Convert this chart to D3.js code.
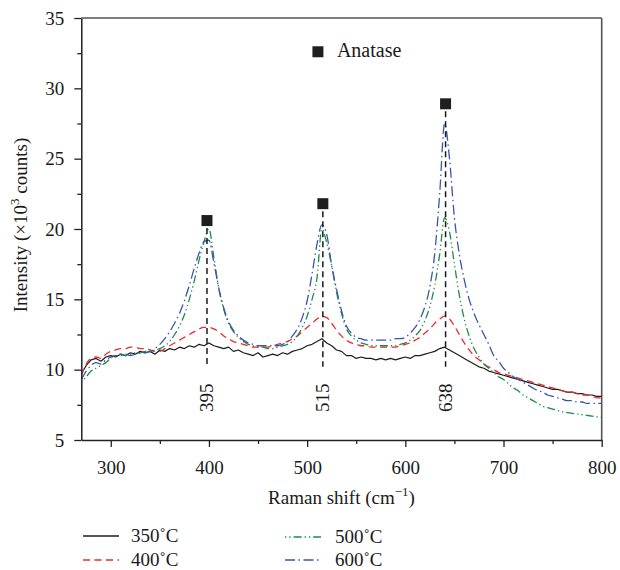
<!DOCTYPE html>
<html>
<head>
<meta charset="utf-8">
<script src="https://cdn.jsdelivr.net/npm/d3@7"></script>
<style>
  html, body { margin: 0; padding: 0; background: #fff; }
  svg { display: block; }
  text { font-family: "Liberation Serif", "Times New Roman", serif; fill: #1a1a1a; }
</style>
</head>
<body>
<svg id="chart" width="620" height="570"></svg>
<script>
// ---------------- data ----------------
const ramanShift = d3.range(270, 805, 5); // cm^-1 grid, 270..800

const s350 = [
  9.7, 10.3, 10.7, 10.8, 10.6, 10.9, 11.0, 10.9, 11.1, 11.0,
  11.2, 11.1, 11.3, 11.2, 11.3, 11.1, 11.4, 11.3, 11.5, 11.4,
  11.6, 11.5, 11.7, 11.6, 11.8, 11.7, 11.9, 11.7, 11.6, 11.5,
  11.6, 11.3, 11.4, 11.2, 11.1, 11.0, 11.2, 10.9, 11.0, 11.1,
  11.0, 11.2, 11.1, 11.3, 11.4, 11.5, 11.7, 11.8, 12.0, 12.2,
  11.9, 11.7, 11.4, 11.3, 11.0, 11.0, 10.8, 10.9, 10.8, 10.8,
  10.7, 10.8, 10.7, 10.8, 10.7, 10.8, 10.9, 10.8, 11.0, 11.0,
  11.1, 11.2, 11.3, 11.5, 11.6, 11.4, 11.2, 11.0, 10.8, 10.6,
  10.4, 10.2, 10.1, 9.9, 9.8, 9.7, 9.6, 9.5, 9.4, 9.3,
  9.2, 9.1, 9.0, 8.9, 8.8, 8.7, 8.6, 8.6, 8.5, 8.4,
  8.4, 8.3, 8.3, 8.2, 8.2, 8.1, 8.1
];
const s400 = [
  9.6, 10.4, 10.8, 10.9, 10.8, 11.1, 11.3, 11.4, 11.5, 11.5,
  11.6, 11.6, 11.5, 11.5, 11.4, 11.3, 11.3, 11.5, 11.7, 11.9,
  12.1, 12.3, 12.5, 12.7, 12.9, 13.0, 13.0, 12.9, 12.7, 12.4,
  12.2, 12.0, 11.9, 11.8, 11.7, 11.6, 11.6, 11.6, 11.6, 11.7,
  11.8, 11.9, 12.0, 12.2, 12.4, 12.7, 13.0, 13.3, 13.6, 13.8,
  13.7, 13.3, 12.8, 12.4, 12.1, 11.9, 11.8, 11.7, 11.7, 11.6,
  11.6, 11.6, 11.6, 11.6, 11.6, 11.7, 11.8, 11.9, 12.1, 12.3,
  12.6, 12.9, 13.3, 13.6, 13.8, 13.6, 13.1, 12.5, 11.9, 11.4,
  11.0, 10.7, 10.4, 10.2, 10.0, 9.8, 9.7, 9.6, 9.5, 9.4,
  9.3, 9.2, 9.1, 9.0, 8.9, 8.8, 8.7, 8.6, 8.5, 8.4,
  8.4, 8.3, 8.2, 8.2, 8.1, 8.0, 8.0
];
const s500 = [
  9.1, 9.5, 9.9, 10.1, 10.3, 10.5, 10.8, 11.0, 11.1, 11.0,
  11.1, 11.2, 11.2, 11.3, 11.3, 11.4, 11.5, 11.7, 12.0, 12.5,
  13.1, 13.9, 15.0, 16.3, 17.8, 19.1, 20.0, 18.0, 15.8, 14.3,
  13.3, 12.7, 12.3, 12.0, 11.8, 11.7, 11.6, 11.6, 11.5, 11.5,
  11.6, 11.7, 11.8, 12.0, 12.4, 13.0, 13.8, 15.0, 16.5, 20.0,
  19.0, 17.4, 15.5, 14.0, 12.9, 12.4, 12.1, 11.9, 11.8, 11.7,
  11.7, 11.7, 11.7, 11.7, 11.7, 11.8, 11.9, 12.1, 12.4, 12.8,
  13.5, 14.5, 16.0, 18.2, 20.8, 19.8, 17.5, 15.3, 13.6, 12.4,
  11.5, 10.9, 10.4, 10.1, 9.8, 9.5, 9.3, 9.0, 8.7, 8.5,
  8.2, 8.0, 7.8, 7.6, 7.4, 7.3, 7.2, 7.1, 7.0, 6.95,
  6.9, 6.85, 6.8, 6.75, 6.7, 6.65, 6.6
];
const s600 = [
  9.3, 9.9, 10.3, 10.5, 10.4, 10.7, 10.9, 11.0, 11.0, 11.1,
  11.0, 11.1, 11.2, 11.2, 11.3, 11.5, 11.8, 12.2, 12.7, 13.3,
  14.0, 14.9, 16.0, 17.2, 18.3, 19.1, 19.2, 17.6, 15.8, 14.4,
  13.4, 12.8, 12.4, 12.1, 11.9, 11.8, 11.7, 11.7, 11.7, 11.7,
  11.7, 11.8, 12.0, 12.4, 12.9, 13.7, 14.9, 16.8, 18.9, 20.3,
  19.6, 17.4, 15.7, 14.2, 13.1, 12.6, 12.3, 12.2, 12.1, 12.1,
  12.1, 12.1, 12.1, 12.1, 12.2, 12.2, 12.3, 12.6, 13.0, 13.6,
  14.5, 15.9, 18.3, 22.5, 27.5, 25.0, 20.8, 18.2, 16.4, 15.0,
  14.0, 13.2, 12.5, 11.8, 11.0, 10.6, 10.1, 9.8, 9.5, 9.3,
  9.1, 8.9, 8.7, 8.5, 8.4, 8.2, 8.1, 8.0, 7.9, 7.8,
  7.8, 7.7, 7.7, 7.6, 7.6, 7.6, 7.6
];

const seriesNames = ["350˚C", "400˚C", "500˚C", "600˚C"];
const seriesValues = [s350, s400, s500, s600];

const peakShift = [398, 516, 641];
const peakLabels = ["395", "515", "638"];
const markerIntensity = [20.6, 21.8, 28.9];
const peakLineBottom = 10.2;
const peakLabelCenter = 8.0;

const anatasePos = [511, 32.6];
const anataseLabel = "Anatase";

const xTicks = [300, 400, 500, 600, 700, 800];
const xMinorTicks = [350, 450, 550, 650, 750];
const yTicks = [5, 10, 15, 20, 25, 30, 35];
const yMinorTicks = [7.5, 12.5, 17.5, 22.5, 27.5, 32.5];

// ---------------- styles ----------------
const styles = [
  { color: "#1c1c1c", dash: null,               width: 1.2, curve: d3.curveLinear },
  { color: "#ee2a2a", dash: "7,4.5",            width: 1.3, curve: d3.curveMonotoneX },
  { color: "#1d8a4a", dash: "1.3,3,1.3,3,8,3",  width: 1.3, curve: d3.curveMonotoneX },
  { color: "#3a55aa", dash: "10,3.5,1.5,3.5",   width: 1.3, curve: d3.curveMonotoneX }
];

// ---------------- chart ----------------
const svg = d3.select("#chart");
const X0 = 81.3, X1 = 601.7, Y0 = 440, Y1 = 18;
const x = d3.scaleLinear().domain([270, 800]).range([X0, X1]);
const y = d3.scaleLinear().domain([5, 35]).range([Y0, Y1]);

// frame top/right
svg.append("line").attr("x1", X0).attr("x2", X1).attr("y1", Y1).attr("y2", Y1)
  .attr("stroke", "#555").attr("stroke-width", 1.6);
svg.append("line").attr("x1", X1).attr("x2", X1).attr("y1", Y1).attr("y2", Y0)
  .attr("stroke", "#555").attr("stroke-width", 1.6);

// series
svg.append("clipPath").attr("id", "clip").append("rect")
  .attr("x", X0).attr("y", Y1).attr("width", X1 - X0).attr("height", Y0 - Y1);

const gSeries = svg.append("g").attr("clip-path", "url(#clip)");
seriesValues.forEach((vals, i) => {
  const line = d3.line().x(d => x(d[0])).y(d => y(d[1])).curve(styles[i].curve);
  const pts = ramanShift.map((s, k) => [s, vals[k]]);
  gSeries.append("path").datum(pts)
    .attr("d", line)
    .attr("fill", "none")
    .attr("stroke", styles[i].color)
    .attr("stroke-width", styles[i].width)
    .attr("stroke-dasharray", styles[i].dash)
    .attr("stroke-linejoin", "round");
});

// peak markers & dashed lines
const sq = 11;
peakShift.forEach((p, i) => {
  svg.append("line")
    .attr("x1", x(p)).attr("x2", x(p))
    .attr("y1", y(markerIntensity[i]) + sq / 2 + 2).attr("y2", y(peakLineBottom))
    .attr("stroke", "#1a1a1a").attr("stroke-width", 1.5)
    .attr("stroke-dasharray", "6,4");
  svg.append("rect")
    .attr("x", x(p) - sq / 2).attr("y", y(markerIntensity[i]) - sq / 2)
    .attr("width", sq).attr("height", sq).attr("fill", "#1f1f1f");
  svg.append("text")
    .attr("transform", `translate(${x(p)},${y(peakLabelCenter)}) rotate(-90)`)
    .attr("text-anchor", "middle").attr("dominant-baseline", "central")
    .attr("font-size", 19).text(peakLabels[i]);
});

// Anatase legend
svg.append("rect")
  .attr("x", x(anatasePos[0]) - sq / 2).attr("y", y(anatasePos[1]) - sq / 2)
  .attr("width", sq).attr("height", sq).attr("fill", "#1f1f1f");
svg.append("text")
  .attr("x", x(anatasePos[0]) + 19).attr("y", y(anatasePos[1]) + 5)
  .attr("font-size", 20).text(anataseLabel);

// axes
const xAxis = svg.append("g").attr("transform", `translate(0,${Y0})`)
  .call(d3.axisBottom(x).tickValues(xTicks).tickFormat(d3.format("d"))
    .tickSizeInner(7).tickSizeOuter(0).tickPadding(14));
const xMinor = svg.append("g").attr("transform", `translate(0,${Y0})`)
  .call(d3.axisBottom(x).tickValues(xMinorTicks).tickFormat("")
    .tickSizeInner(4).tickSizeOuter(0));
const yAxis = svg.append("g").attr("transform", `translate(${X0},0)`)
  .call(d3.axisLeft(y).tickValues(yTicks).tickFormat(d3.format("d"))
    .tickSizeInner(7).tickSizeOuter(0).tickPadding(10));
const yMinor = svg.append("g").attr("transform", `translate(${X0},0)`)
  .call(d3.axisLeft(y).tickValues(yMinorTicks).tickFormat("")
    .tickSizeInner(4).tickSizeOuter(0));

[xAxis, xMinor, yAxis, yMinor].forEach(g => {
  g.attr("font-family", null).attr("font-size", null);
  g.selectAll(".domain").attr("stroke", "#222").attr("stroke-width", 1.5);
  g.selectAll(".tick line").attr("stroke", "#222").attr("stroke-width", 1.3);
  g.selectAll(".tick text").attr("font-size", 19)
    .attr("font-family", "Liberation Serif, serif").attr("fill", "#1a1a1a");
});
xMinor.select(".domain").remove();
yMinor.select(".domain").remove();

// axis titles
const xt = svg.append("text").attr("x", (X0 + X1) / 2).attr("y", 504)
  .attr("text-anchor", "middle").attr("font-size", 19);
xt.append("tspan").text("Raman shift (cm");
xt.append("tspan").attr("dy", -8).attr("font-size", 13).text("−1");
xt.append("tspan").attr("dy", 8).text(")");

const yt = svg.append("text")
  .attr("transform", `translate(27,${(Y0 + Y1) / 2 - 4}) rotate(-90)`)
  .attr("text-anchor", "middle").attr("font-size", 19);
yt.append("tspan").text("Intensity (×10");
yt.append("tspan").attr("dy", -8).attr("font-size", 13).text("3");
yt.append("tspan").attr("dy", 8).text(" counts)");

// series legend
const legendPos = [
  { lx: 83, tx: 131, y: 536 },
  { lx: 83, tx: 131, y: 560 },
  { lx: 285, tx: 335, y: 537 },
  { lx: 285, tx: 335, y: 560 }
];
seriesNames.forEach((name, i) => {
  const p = legendPos[i];
  svg.append("line").attr("x1", p.lx).attr("x2", p.lx + 36)
    .attr("y1", p.y).attr("y2", p.y)
    .attr("stroke", styles[i].color).attr("stroke-width", 1.4)
    .attr("stroke-dasharray", styles[i].dash);
  svg.append("text").attr("x", p.tx).attr("y", p.y + 6)
    .attr("font-size", 19).text(name);
});
</script>
</body>
</html>
